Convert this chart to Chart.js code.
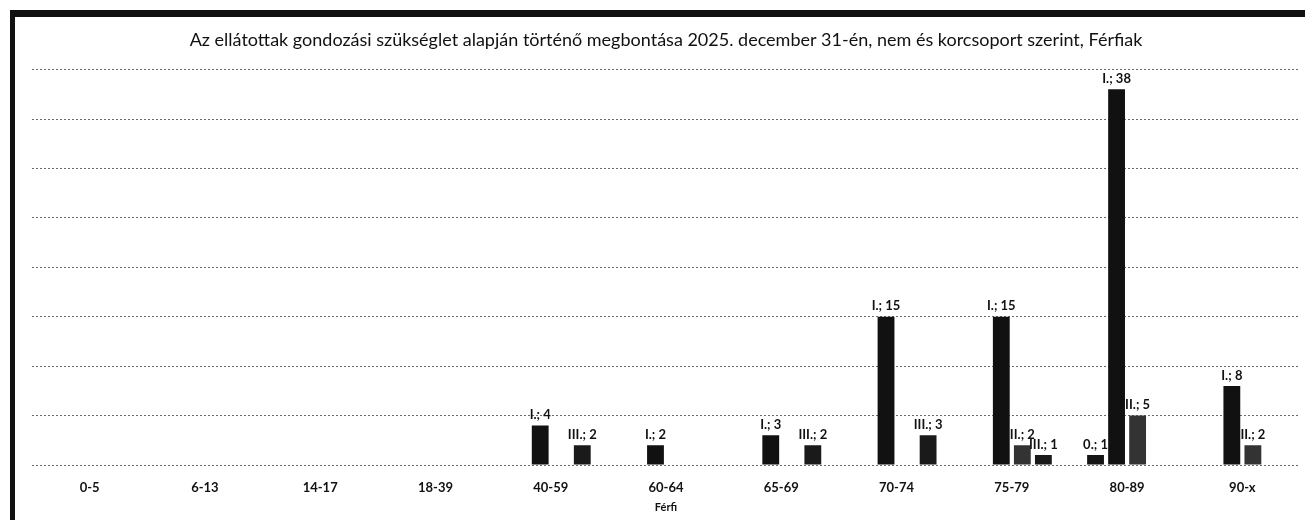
<!DOCTYPE html>
<html>
<head>
<meta charset="utf-8">
<script src="https://cdn.jsdelivr.net/npm/chart.js@4"></script>
<style>
  html, body { margin: 0; padding: 0; background: #fff; }
  #wrap { position: relative; width: 1305px; height: 520px; overflow: hidden; }
  #frame { position: absolute; left: 10px; top: 10px; width: 1300px; height: 520px;
           border-top: 7px solid #111; border-left: 5px solid #111; pointer-events: none; box-sizing: border-box; }
  canvas { position: absolute; left: 0; top: 0; }
</style>
</head>
<body>
<div id="wrap">
  <canvas id="c" width="1305" height="520"></canvas>
  <div id="frame"></div>
</div>
<script>
const categories = ['0-5','6-13','14-17','18-39','40-59','60-64','65-69','70-74','75-79','80-89','90-x'];
const seriesNames = ['0.', 'I.', 'II.', 'III.'];
const s0   = [0,0,0,0,0,0,0,0,0,1,0];
const sI   = [0,0,0,0,4,2,3,15,15,38,8];
const sII  = [0,0,0,0,0,0,0,0,2,5,2];
const sIII = [0,0,0,0,2,0,2,3,1,0,0];
const titleText = 'Az ellátottak gondozási szükséglet alapján történő megbontása 2025. december 31-én, nem és korcsoport szerint, Férfiak';
const axisTitle = 'Férfi';

const colors = ['#151515', '#111111', '#333333', '#1a1a1a'];
const seriesData = [s0, sI, sII, sIII];

const labelPlugin = {
  id: 'barLabels',
  afterDatasetsDraw(chart) {
    const ctx = chart.ctx;
    ctx.save();
    ctx.font = 'bold 13px Lato, "Open Sans", sans-serif';
    ctx.fillStyle = '#111';
    ctx.textAlign = 'center';
    ctx.textBaseline = 'bottom';
    chart.data.datasets.forEach((ds, i) => {
      const meta = chart.getDatasetMeta(i);
      meta.data.forEach((bar, j) => {
        const v = ds.data[j];
        if (!v) return;
        ctx.fillText(ds.label + '; ' + v, bar.x, bar.y - 4);
      });
    });
    ctx.restore();
  }
};

new Chart(document.getElementById('c'), {
  type: 'bar',
  data: {
    labels: categories,
    datasets: seriesData.map((d, i) => ({
      label: seriesNames[i],
      data: d,
      backgroundColor: colors[i],
      borderWidth: 0,
      categoryPercentage: 0.73,
      barPercentage: 0.8
    }))
  },
  options: {
    responsive: false,
    animation: false,
    devicePixelRatio: 1,
    layout: { padding: { left: 32, right: 5, top: 10, bottom: 0 } },
    plugins: {
      legend: { display: false },
      tooltip: { enabled: false },
      title: {
        display: true,
        text: titleText,
        color: '#111',
        font: { family: 'Lato, "Open Sans", sans-serif', size: 18, weight: 'normal' },
        padding: { top: 19, bottom: 19 }
      }
    },
    scales: {
      x: {
        afterFit(scale) { scale.height = 55; },
        grid: { display: false, drawTicks: false },
        border: { display: false },
        ticks: { color: '#111', padding: 15, font: { family: 'Lato, sans-serif', size: 13, weight: 'bold' } },
        title: { display: true, text: axisTitle, color: '#111', padding: { top: 4, bottom: 6 },
                 font: { family: 'Lato, sans-serif', size: 11, weight: 'bold' } }
      },
      y: {
        min: 0, max: 40,
        ticks: { display: false, stepSize: 5 },
        grid: { color: '#6a6a6a', lineWidth: 1, drawTicks: false },
        border: { display: false, dash: [2, 2] }
      }
    }
  },
  plugins: [labelPlugin]
});
</script>
</body>
</html>
